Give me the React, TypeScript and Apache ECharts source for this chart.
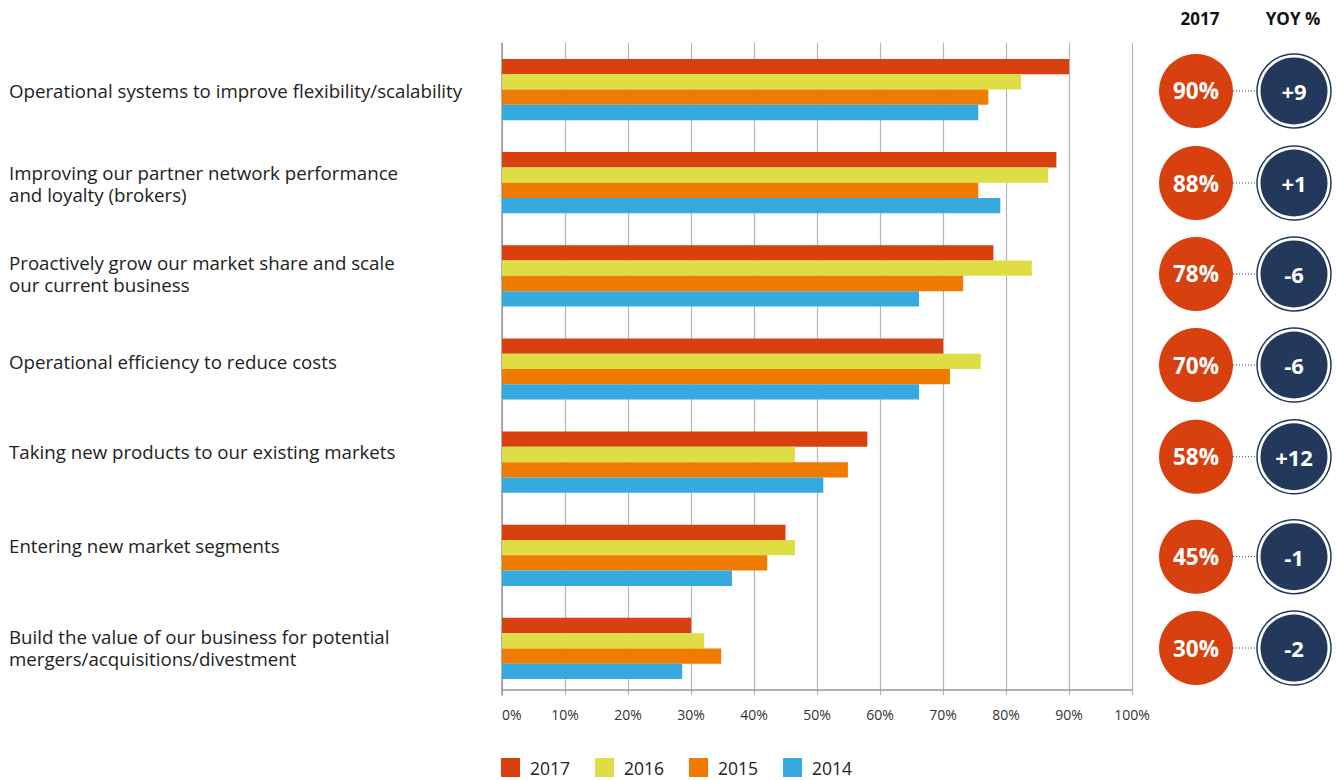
import React, { useEffect, useRef } from "react";
import * as echarts from "echarts";

const categories = [
  "Operational systems to improve flexibility/scalability",
  "Improving our partner network performance\nand loyalty (brokers)",
  "Proactively grow our market share and scale\nour current business",
  "Operational efficiency to reduce costs",
  "Taking new products to our existing markets",
  "Entering new market segments",
  "Build the value of our business for potential\nmergers/acquisitions/divestment",
];

const seriesNames = ["2017", "2016", "2015", "2014"];
const values2017 = [90, 88, 78, 70, 58, 45, 30];
const values2016 = [82.4, 86.7, 84.1, 76, 46.5, 46.5, 32.1];
const values2015 = [77.2, 75.6, 73.2, 71.1, 54.9, 42.1, 34.8];
const values2014 = [75.6, 79.1, 66.2, 66.2, 51, 36.5, 28.6];
const yoyChange = [9, 1, -6, -6, 12, -1, -2];
const xTicks = [0, 10, 20, 30, 40, 50, 60, 70, 80, 90, 100];

// layout nudges (px) reproducing the reference's slight vertical offsets
const labelNudge = [1.4, 0.3, -1.9, -8, -10.6, -9.8, -0.9];
const circleNudge = [1.4, 0.3, -1.9, -4, -5.4, 1.4, -0.4];

const colors = ["#d9400f", "#dede44", "#ef7b00", "#36a9de"];
const navy = "#23395b";
const FONT = '"Open Sans", "Noto Sans", sans-serif';
const LINE_H = 22;

export default function App() {
  const ref = useRef<HTMLDivElement>(null);
  useEffect(() => {
    if (!ref.current) return;
    const chart = echarts.init(ref.current, null, { renderer: "svg" });
    const allValues = [values2017, values2016, values2015, values2014];
    const option: any = {
      animation: false,
      textStyle: { fontFamily: FONT },
      grid: [
        { left: 502, right: 206, top: 43, bottom: 85 },
        { left: 1140, right: 0, top: 43, bottom: 85 },
      ],
      legend: {
        data: seriesNames,
        left: 496,
        top: 753,
        icon: "rect",
        itemWidth: 19,
        itemHeight: 19,
        itemGap: 25,
        textStyle: { fontSize: 17.5, color: "#222", fontFamily: FONT, padding: [0, 0, 0, 5] },
      },
      xAxis: [
        {
          gridIndex: 0,
          type: "value",
          min: xTicks[0],
          max: xTicks[xTicks.length - 1],
          interval: 10,
          offset: -5,
          axisLine: { show: true, lineStyle: { color: "#9a9a9a", width: 1.5 } },
          axisTick: { show: false },
          splitLine: { show: true, lineStyle: { color: "#b5b5b5", width: 1.2 } },
          axisLabel: {
            formatter: "{value}%",
            fontSize: 14,
            color: "#333",
            margin: 17,
            alignMinLabel: "left",
            fontFamily: FONT,
          },
        },
        { gridIndex: 1, type: "value", min: 0, max: 1, show: false },
      ],
      yAxis: [
        {
          gridIndex: 0,
          type: "category",
          data: categories,
          inverse: true,
          axisLine: { show: true, lineStyle: { color: "#9a9a9a", width: 1.5 } },
          axisTick: { show: false },
          splitLine: { show: false },
          axisLabel: { show: false },
        },
        { gridIndex: 1, type: "category", data: categories, inverse: true, show: false },
      ],
      series: [
        ...seriesNames.map((name, si) => ({
          name,
          type: "bar",
          xAxisIndex: 0,
          yAxisIndex: 0,
          data: allValues[si],
          barWidth: 15.3,
          barGap: "0%",
          itemStyle: { color: colors[si] },
        })),
        {
          type: "custom",
          xAxisIndex: 0,
          yAxisIndex: 0,
          silent: true,
          clip: false,
          data: categories.map((_, i) => [0, i]),
          renderItem: (params: any, api: any) => {
            const i = params.dataIndex;
            const y = api.coord([0, i])[1] + labelNudge[i];
            const lines = categories[i].split("\n");
            const y0 = y - ((lines.length - 1) * LINE_H) / 2;
            return {
              type: "group",
              children: lines.map((line, k) => ({
                type: "text",
                x: 9,
                y: y0 + k * LINE_H,
                style: {
                  text: line,
                  fill: "#222",
                  fontSize: 18.7,
                  fontFamily: FONT,
                  align: "left",
                  verticalAlign: "middle",
                },
              })),
            };
          },
        },
        {
          type: "custom",
          xAxisIndex: 1,
          yAxisIndex: 1,
          silent: true,
          data: categories.map((_, i) => [0, i]),
          renderItem: (params: any, api: any) => {
            const i = params.dataIndex;
            const y = api.coord([0, i])[1] + circleNudge[i];
            const redX = 1196;
            const navyX = 1294;
            const yoy = yoyChange[i];
            return {
              type: "group",
              children: [
                { type: "circle", shape: { cx: redX, cy: y, r: 37 }, style: { fill: colors[0] } },
                {
                  type: "line",
                  shape: { x1: redX + 37, y1: y, x2: navyX - 37.5, y2: y },
                  style: { stroke: "#444", lineWidth: 1, lineDash: [1, 2] },
                },
                {
                  type: "circle",
                  shape: { cx: navyX, cy: y, r: 37 },
                  style: { fill: "#fff", stroke: navy, lineWidth: 1.5 },
                },
                { type: "circle", shape: { cx: navyX, cy: y, r: 33.5 }, style: { fill: navy } },
                {
                  type: "text",
                  x: redX,
                  y: y,
                  style: {
                    text: values2017[i] + "%",
                    fill: "#fff",
                    fontSize: 22.5,
                    fontWeight: "bold",
                    fontFamily: FONT,
                    align: "center",
                    verticalAlign: "middle",
                  },
                },
                {
                  type: "text",
                  x: navyX,
                  y: y,
                  style: {
                    text: (yoy > 0 ? "+" : "") + yoy,
                    fill: "#fff",
                    fontSize: 22,
                    fontWeight: "bold",
                    fontFamily: FONT,
                    align: "center",
                    verticalAlign: "middle",
                  },
                },
              ],
            };
          },
        },
      ],
      graphic: [
        {
          type: "text",
          x: 1200,
          y: 18,
          style: {
            text: "2017",
            fill: "#111",
            fontSize: 17,
            fontWeight: "bold",
            fontFamily: FONT,
            align: "center",
            verticalAlign: "middle",
          },
        },
        {
          type: "text",
          x: 1293,
          y: 18,
          style: {
            text: "YOY %",
            fill: "#111",
            fontSize: 17,
            fontWeight: "bold",
            fontFamily: FONT,
            align: "center",
            verticalAlign: "middle",
          },
        },
      ],
    };
    chart.setOption(option);
    return () => chart.dispose();
  }, []);
  return (
    <div
      ref={ref}
      style={{ position: "fixed", left: 0, top: 0, width: 1338, height: 780, background: "#fff" }}
    />
  );
}
